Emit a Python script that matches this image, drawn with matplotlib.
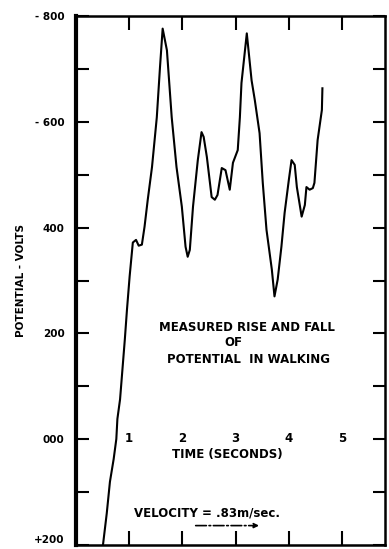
import matplotlib

matplotlib.use("Agg")
import matplotlib.pyplot as plt

# measured potential trace
time_s = [0.51, 0.58, 0.64, 0.71, 0.76, 0.78, 0.83, 0.86, 0.92, 0.96,
          1.01, 1.07, 1.13, 1.18, 1.24, 1.29, 1.35, 1.43, 1.52, 1.58,
          1.63, 1.71, 1.80, 1.89, 1.99, 2.06, 2.10, 2.14, 2.20, 2.29,
          2.36, 2.40, 2.46, 2.55, 2.61, 2.66, 2.74, 2.81, 2.89, 2.95,
          3.04, 3.08, 3.11, 3.21, 3.30, 3.36, 3.45, 3.51, 3.58, 3.68,
          3.73, 3.79, 3.86, 3.92, 4.00, 4.05, 4.11, 4.15, 4.24, 4.30,
          4.33, 4.39, 4.45, 4.48, 4.54, 4.62, 4.63]
potential_v = [-200, -141, -81, -38, 0, 38, 75, 113, 189, 245,
               308, 372, 377, 366, 368, 402, 453, 515, 609, 704,
               777, 736, 609, 515, 440, 364, 345, 358, 440, 528,
               581, 572, 534, 458, 453, 462, 513, 509, 472, 523,
               547, 609, 674, 768, 679, 642, 579, 485, 396, 321,
               270, 302, 364, 428, 491, 528, 519, 477, 421, 443,
               477, 472, 475, 485, 566, 623, 664]

y_ticks = [800, 600, 400, 200, 0, -200]
y_tick_labels = ["- 800", "- 600", "400", "200", "000", "+200"]
y_minor = [700, 500, 300, 100, -100]
x_ticks = [1, 2, 3, 4, 5]
x_tick_labels = ["1", "2", "3", "4", "5"]

fig = plt.figure(figsize=(3.89, 5.49), dpi=100)
ax = fig.add_axes([0.195, 0.008, 0.794, 0.962])

ax.plot(time_s, potential_v, color="black", lw=1.5)

ax.set_xlim(0, 5.8)
ax.set_ylim(-200, 800)

ax.set_yticks(y_ticks)
ax.set_yticklabels(y_tick_labels, fontsize=7.5, fontweight="heavy")
ax.get_yticklabels()[-1].set_va("bottom")
ax.set_yticks(y_minor, minor=True)
ax.set_xticks(x_ticks)
ax.set_xticklabels([])
ax.tick_params(axis="y", which="both", direction="in", length=9, width=1.5,
               right=True, pad=8)
ax.tick_params(axis="x", which="both", direction="in", length=10, width=1.5,
               top=True)

ax.spines["left"].set_linewidth(3)
for side in ["top", "right", "bottom"]:
    ax.spines[side].set_linewidth(1.8)

ax.set_ylabel("POTENTIAL - VOLTS", fontsize=7.5, fontweight="heavy", labelpad=6)

bold = dict(fontweight="heavy", ha="center", va="center", fontsize=8.5)
for t, lab in zip(x_ticks, x_tick_labels):
    ax.text(t, 0, lab, **bold)
ax.text(2.85, -30, "TIME (SECONDS)", **bold)
ax.text(3.21, 211, "MEASURED RISE AND FALL", **bold)
ax.text(2.95, 183, "OF", **bold)
ax.text(3.25, 151, "POTENTIAL  IN WALKING", **bold)
ax.text(2.46, -141, "VELOCITY = .83m/sec.", **bold)

ax.annotate("", xy=(0.602, 0.036), xytext=(0.379, 0.036),
            xycoords="axes fraction",
            arrowprops=dict(arrowstyle="-|>", color="black", lw=1.2,
                            linestyle="dashdot", mutation_scale=7))

fig.savefig("out.png", dpi=100)
